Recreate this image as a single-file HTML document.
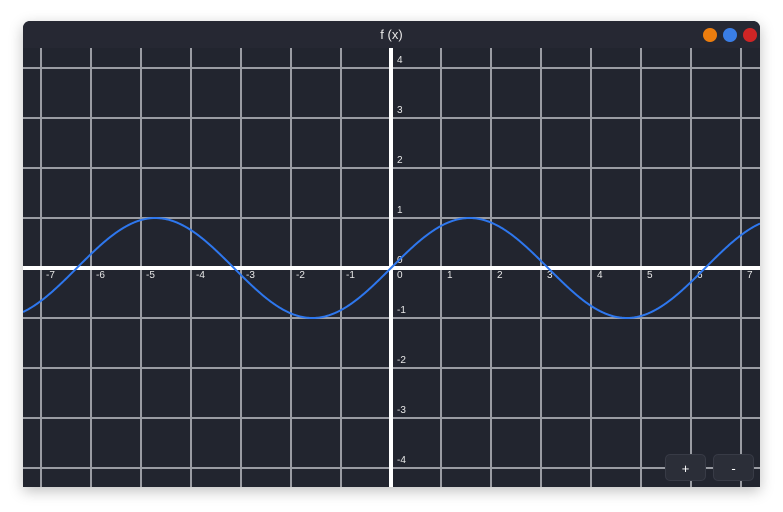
<!DOCTYPE html>
<html><head><meta charset="utf-8"><style>
html,body{margin:0;padding:0;background:#fff;width:783px;height:512px;overflow:hidden;font-family:"Liberation Sans",sans-serif}
#win{position:absolute;left:23px;top:21px;width:737px;height:466px;background:#22252f;border-radius:7px 7px 0 0;overflow:hidden;box-shadow:0 4px 14px rgba(0,0,0,0.25)}
#title{position:absolute;left:0;top:0;width:737px;height:27px;background:#262833;color:#e8e8e8;font-size:13px;text-align:center;line-height:27px}
.dot{position:absolute;top:7px;width:14px;height:14px;border-radius:50%}
.btn{position:absolute;top:433px;width:41px;height:27px;background:#2b2e38;border:1px solid #383b46;border-radius:5px;color:#fff;font-size:13px;text-align:center;line-height:27px;box-sizing:border-box}
</style></head><body>
<div id="win">
<svg id="plot" width="737" height="466" style="position:absolute;left:0;top:0"></svg>
<div id="title">f (x)</div>
<div class="dot" style="left:680px;background:#ec7d0e"></div>
<div class="dot" style="left:700px;background:#3a7ee6"></div>
<div class="dot" style="left:720px;background:#cf2525"></div>
<div class="btn" style="left:642px">+</div>
<div class="btn" style="left:690px">-</div>
</div>
<script>
const xTicks=[-7,-6,-5,-4,-3,-2,-1,0,1,2,3,4,5,6,7];
const yTicks=[-4,-3,-2,-1,0,1,2,3,4];
const amplitude=[1];
const frequency=[1];
const ox=368, oy=247, unit=50;
const sx=v=>ox+v*unit, sy=v=>oy-v*unit;
const svg=document.getElementById('plot');
const NS='http://www.w3.org/2000/svg';
function mk(t,a){const e=document.createElementNS(NS,t);for(const k in a)e.setAttribute(k,a[k]);svg.appendChild(e);return e;}
for(let v=-8;v<=8;v++){const l=mk('line',{x1:sx(v),x2:sx(v),y1:0,y2:466,stroke:'#9a9ca3','stroke-width':2});

}
for(let v=-5;v<=5;v++){const l=mk('line',{x1:0,x2:737,y1:sy(v),y2:sy(v),stroke:'#9a9ca3','stroke-width':2});

}
const xa=mk('line',{x1:0,x2:737,y1:oy,y2:oy,stroke:'#fff','stroke-width':4});


const ya=mk('line',{x1:ox,x2:ox,y1:0,y2:466,stroke:'#fff','stroke-width':4});


xTicks.forEach(v=>{const t=mk('text',{x:sx(v)+(v<0?5:6),y:oy+10,fill:'#e8e8e8','font-size':10,'font-family':'Liberation Sans, sans-serif'});t.textContent=v;

});
yTicks.forEach(v=>{const t=mk('text',{x:ox+6,y:sy(v)-5,fill:'#e8e8e8','font-size':10,'font-family':'Liberation Sans, sans-serif'});t.textContent=v;

});
let d='';for(let px=0;px<=737;px++){const x=(px-ox)/unit;const y=amplitude[0]*Math.sin(frequency[0]*x);d+=(px?'L':'M')+px+' '+sy(y).toFixed(2);}
const c=mk('path',{d:d,fill:'none',stroke:'#2e77ee','stroke-width':2});


</script>
</body></html>
